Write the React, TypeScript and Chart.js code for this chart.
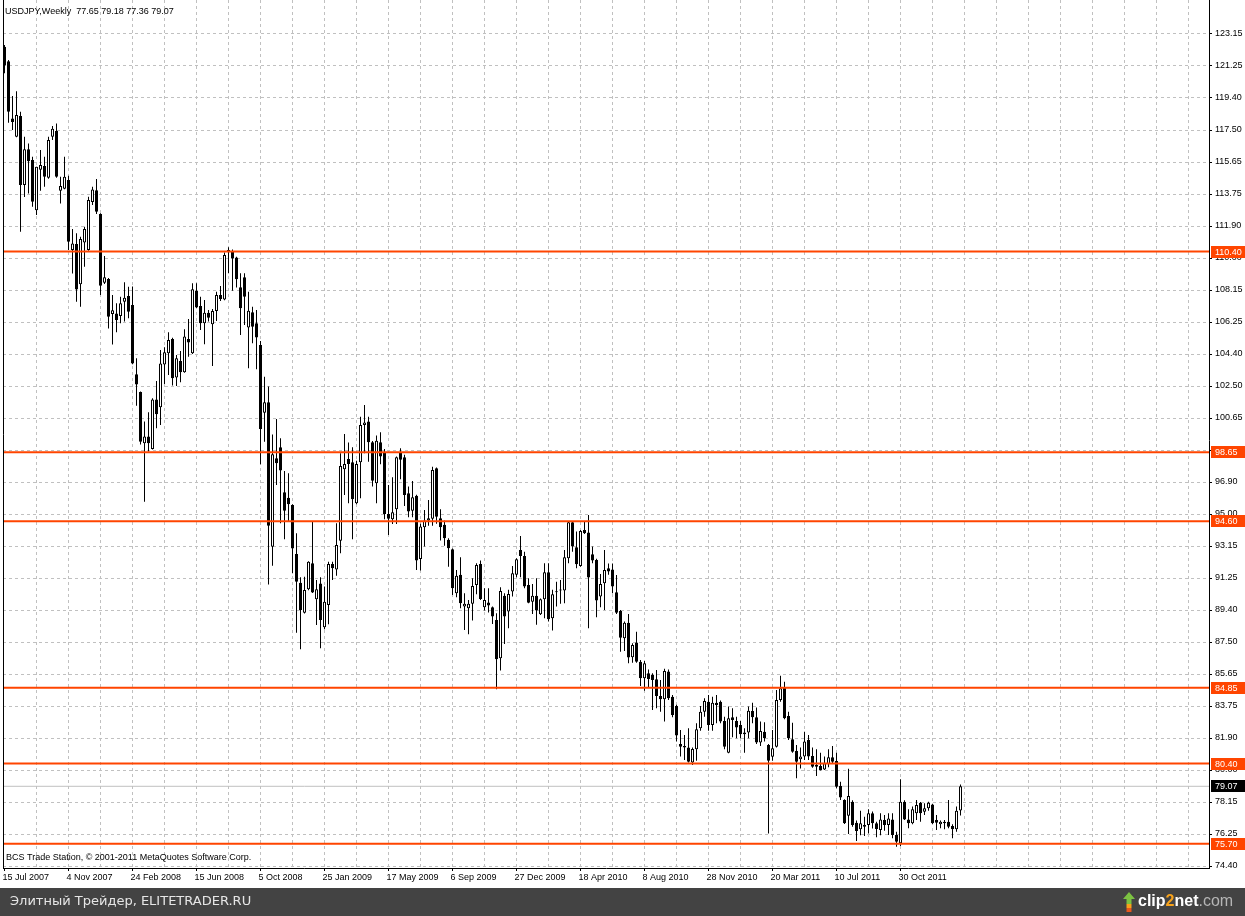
import React, { useEffect, useRef } from 'react';
import { Chart, registerables } from 'chart.js';

Chart.register(...registerables);

// ---------------- data ----------------
const symbolTitle = 'USDJPY,Weekly';

const opens = [
  122.40,121.56,118.20,117.13,118.34,114.30,116.40,115.76,112.83,115.20,
  115.41,114.73,117.13,117.46,113.97,114.08,114.59,110.49,110.84,108.48,
  110.94,110.49,113.30,114.00,112.60,108.58,108.79,106.74,106.78,106.62,
  107.46,107.80,107.27,103.21,102.17,99.17,99.56,98.84,101.74,101.28,
  103.79,104.44,105.28,103.03,103.99,103.33,105.28,104.44,108.11,107.21,
  106.20,106.82,106.14,106.92,107.86,107.60,110.36,110.44,110.05,108.31,
  108.89,105.96,106.84,106.20,104.93,100.96,101.57,93.11,98.29,98.93,
  96.30,95.98,95.55,92.68,91.00,89.24,90.61,92.14,90.03,90.96,
  88.39,89.69,92.10,91.78,93.46,97.64,98.25,98.05,95.65,98.05,
  100.24,100.44,99.23,96.83,99.23,98.65,95.03,94.72,95.30,98.65,
  98.35,96.24,95.21,96.09,92.39,94.25,94.64,94.74,97.71,94.78,
  94.39,93.51,92.96,90.38,91.46,89.60,89.50,89.76,90.87,92.10,
  89.56,89.84,89.56,88.82,86.57,90.23,89.31,90.48,91.46,92.92,
  92.57,90.87,89.89,90.23,89.15,90.03,91.61,88.92,90.48,90.58,
  90.54,92.43,94.54,93.08,91.98,94.09,93.94,92.67,92.33,90.19,
  90.97,91.85,91.78,90.44,89.34,87.74,88.66,86.63,87.50,86.37,
  85.40,85.69,85.59,85.34,84.36,84.17,85.79,84.32,83.78,81.55,
  81.43,81.35,80.46,81.24,82.47,83.44,84.03,82.66,83.97,84.03,
  82.90,81.04,83.11,82.90,82.66,82.22,82.22,83.48,83.11,81.63,
  82.27,81.49,80.80,81.39,84.13,84.85,83.19,81.82,81.14,80.65,
  80.81,81.78,80.85,80.32,80.26,80.06,80.38,80.77,80.55,79.09,
  78.27,77.35,78.17,76.94,76.55,76.80,76.80,77.49,76.90,76.51,
  77.10,76.80,77.13,76.21,75.73,78.17,77.13,76.90,77.49,78.11,
  77.58,77.78,78.01,77.10,76.84,76.90,77.00,76.74,76.55,77.65,
];

const highs = [
  122.50,121.62,119.51,119.80,118.60,117.13,116.74,115.96,115.37,116.35,
  115.96,117.13,117.76,117.91,114.79,115.96,114.85,111.72,111.47,111.27,
  111.86,113.61,114.20,114.65,112.65,110.14,108.85,107.85,107.37,107.76,
  108.60,108.34,108.35,104.15,102.20,100.44,100.98,101.80,102.82,104.63,
  104.79,105.67,105.35,104.34,104.58,105.85,106.45,108.54,108.54,107.76,
  107.56,106.98,107.04,108.05,108.38,110.34,110.65,110.53,110.10,109.13,
  109.13,108.05,107.17,106.98,105.16,103.07,102.49,99.69,100.59,99.46,
  97.55,97.41,95.60,93.89,91.32,91.35,92.25,94.58,91.16,91.32,
  90.77,92.23,92.23,94.48,98.58,99.71,99.21,98.93,98.15,100.73,
  101.41,100.73,99.30,99.62,99.82,98.84,96.73,97.18,98.40,98.88,
  98.49,96.63,96.96,96.15,94.45,95.26,95.85,97.80,97.75,95.30,
  94.64,93.60,93.00,91.75,92.49,90.38,89.99,91.26,92.14,92.30,
  90.67,90.67,89.60,89.21,90.73,90.38,90.58,91.98,92.43,93.74,
  92.82,91.26,90.93,91.26,90.08,92.14,92.14,90.58,91.06,91.16,
  92.92,94.58,94.60,94.00,94.09,94.58,94.97,93.12,92.40,91.51,
  92.92,92.13,92.13,91.45,89.40,88.72,89.17,87.45,88.13,86.47,
  86.41,85.92,85.69,85.89,85.30,85.96,85.92,84.42,83.85,82.37,
  82.08,82.47,81.34,82.76,83.78,84.23,84.42,84.32,84.42,84.10,
  83.15,83.74,83.64,83.15,82.90,82.47,83.74,83.97,83.68,82.86,
  82.82,81.55,82.37,84.71,85.55,85.20,83.44,82.80,81.49,81.35,
  82.27,82.08,81.35,81.24,81.04,80.81,81.24,81.43,81.04,79.34,
  78.31,80.10,78.25,77.06,77.64,77.29,77.72,77.59,77.00,77.49,
  77.39,77.49,77.49,76.41,79.48,78.25,77.72,77.88,78.27,78.15,
  78.07,78.17,78.05,77.39,77.06,77.10,78.27,76.84,77.88,79.18,
];

const lows = [
  120.85,117.95,117.52,117.10,111.57,113.60,113.80,113.03,112.54,113.97,
  114.20,114.67,116.94,114.73,113.22,114.05,110.49,109.12,107.46,107.17,
  109.51,110.45,113.13,112.60,107.85,108.50,105.90,104.96,105.67,106.20,
  106.30,106.49,103.80,101.37,99.10,95.75,98.68,98.80,100.05,100.24,
  102.64,103.17,102.55,102.53,102.74,103.30,104.24,104.40,107.10,105.81,
  104.97,106.30,103.70,106.33,107.51,107.55,109.13,108.11,108.30,105.51,
  106.10,103.56,105.03,103.50,97.94,99.26,90.90,92.00,96.73,94.48,
  93.54,94.58,91.55,88.07,87.10,89.20,90.55,90.40,88.52,87.16,
  88.27,88.56,91.16,91.41,92.72,96.14,95.65,93.54,95.60,95.95,
  98.58,98.09,96.63,95.66,97.94,94.72,93.80,94.44,94.44,97.06,
  95.50,94.84,94.84,91.75,91.71,93.12,94.33,94.33,94.45,93.47,
  93.16,91.94,90.28,90.15,89.50,88.23,87.98,88.78,90.32,89.99,
  89.37,89.25,88.58,84.76,85.85,87.41,88.33,90.19,91.32,91.32,
  90.67,89.80,89.17,88.53,89.10,88.92,88.72,88.20,89.60,89.76,
  89.80,92.14,92.82,91.85,91.94,93.86,88.33,92.14,88.98,89.56,
  89.40,91.46,90.38,89.17,86.96,87.00,86.28,86.31,86.31,84.95,
  84.67,84.87,83.54,83.64,83.44,82.86,84.13,83.11,81.69,80.81,
  80.61,80.46,80.32,80.57,82.33,83.15,82.33,82.33,82.76,82.76,
  81.24,81.00,81.94,81.88,81.88,81.04,81.88,82.76,81.55,81.43,
  81.69,76.31,80.57,81.35,84.03,83.00,81.78,81.04,79.54,80.12,
  80.61,80.61,80.16,79.67,79.99,80.03,80.18,80.42,78.95,78.27,
  76.86,76.27,76.70,75.86,76.20,76.16,76.31,76.60,76.08,76.20,
  76.47,76.21,76.02,75.53,75.57,77.10,76.61,76.84,77.10,77.00,
  77.39,77.64,76.86,76.51,76.61,76.55,76.61,76.02,76.41,77.36,
];

const closes = [
  121.30,118.60,118.00,118.40,114.30,116.40,115.70,113.32,115.37,115.47,
  114.79,116.94,117.60,114.79,114.24,114.79,110.98,110.88,108.18,111.14,
  111.72,113.42,114.04,112.74,108.40,108.89,106.58,106.97,106.39,107.37,
  107.70,106.88,103.85,102.62,99.26,99.56,99.17,101.74,100.87,103.85,
  104.50,105.22,102.98,104.15,103.33,105.42,105.08,108.19,107.13,106.20,
  106.82,106.53,106.92,107.86,107.62,110.20,110.50,110.00,108.78,107.08,
  107.76,106.94,106.00,105.36,100.01,101.57,94.34,98.52,98.00,97.57,
  95.22,95.60,93.01,91.06,89.40,90.57,92.23,90.42,90.61,88.82,
  89.89,92.10,91.84,93.21,97.84,97.96,97.96,95.89,97.96,100.24,
  100.38,99.23,96.98,99.31,98.39,95.03,94.74,95.13,98.35,98.20,
  96.14,95.17,96.01,92.30,94.29,94.64,94.78,97.61,94.87,94.25,
  93.60,93.02,90.67,91.40,89.80,89.76,89.76,90.81,92.04,90.05,
  89.99,89.66,89.02,86.52,90.52,89.02,90.34,91.55,92.37,92.57,
  90.77,89.83,90.24,89.37,90.03,91.61,88.86,90.32,90.44,90.54,
  92.49,94.54,93.12,92.08,94.03,93.90,91.30,92.30,89.95,90.93,
  91.75,91.65,90.77,89.24,87.78,88.66,86.61,87.35,86.37,85.40,
  86.28,85.36,85.30,84.36,84.17,85.83,84.23,83.25,82.04,81.39,
  81.34,80.51,81.26,82.41,83.44,84.07,82.66,83.97,83.83,82.86,
  81.39,83.05,82.95,82.51,82.12,82.12,83.50,83.11,81.63,82.31,
  81.88,80.57,81.30,84.13,84.81,83.05,81.88,81.10,80.51,80.81,
  81.69,80.81,80.22,80.22,80.03,80.42,80.77,80.51,79.05,78.42,
  76.90,78.50,76.80,76.45,76.90,76.70,77.49,76.90,76.57,77.13,
  76.80,77.19,76.21,75.82,78.17,77.13,76.90,77.72,77.97,77.49,
  77.78,78.11,76.90,76.94,77.00,77.00,76.70,76.55,77.64,79.07,
];

const dateLabels = [
  '15 Jul 2007', '4 Nov 2007', '24 Feb 2008', '15 Jun 2008', '5 Oct 2008',
  '25 Jan 2009', '17 May 2009', '6 Sep 2009', '27 Dec 2009', '18 Apr 2010',
  '8 Aug 2010', '28 Nov 2010', '20 Mar 2011', '10 Jul 2011', '30 Oct 2011',
];

const yTickValues = [
  74.4, 76.275, 78.15, 80.025, 81.9, 83.775, 85.65, 87.525, 89.4, 91.275,
  93.15, 95.025, 96.9, 98.775, 100.65, 102.525, 104.4, 106.275, 108.15,
  110.025, 111.9, 113.775, 115.65, 117.525, 119.4, 121.275, 123.15,
];
const yTickLabels = [
  '74.40', '76.25', '78.15', '80.00', '81.90', '83.75', '85.65', '87.50', '89.40', '91.25',
  '93.15', '95.00', '96.90', '98.75', '100.65', '102.50', '104.40', '106.25', '108.15',
  '110.00', '111.90', '113.75', '115.65', '117.50', '119.40', '121.25', '123.15',
];

const levelValues = [110.40, 98.65, 94.60, 84.85, 80.40, 75.70];
const levelLabels = ['110.40', '98.65', '94.60', '84.85', '80.40', '75.70'];
const lastPrice = 79.07;
const lastPriceLabel = '79.07';

const copyrightText = 'BCS Trade Station, \u00a9 2001-2011 MetaQuotes Software Corp.';
const footerText = '\u042d\u043b\u0438\u0442\u043d\u044b\u0439 \u0422\u0440\u0435\u0439\u0434\u0435\u0440, ELITETRADER.RU';

// ---------------- axis geometry ----------------
const X_MIN = -0.375;
const X_MAX = 301.125;
const Y_MIN = 74.2828125;
const Y_MAX = 124.4390625;
const GRID_EVERY = 8;
const LEVEL_COLOR = '#FF4500';
const GRID_COLOR = '#C0C0C0';

function pickFont() {
  const c = document.createElement('canvas').getContext('2d')!;
  const probe = '15 Jul 2007 123.15';
  c.font = '10px monospace';
  const a = c.measureText(probe).width;
  c.font = '10px "Liberation Sans Narrow", monospace';
  const b = c.measureText(probe).width;
  if (Math.abs(a - b) > 0.5) {
    return { family: '"Liberation Sans Narrow", "Liberation Sans", sans-serif', size: 10 };
  }
  return { family: '"Liberation Sans", Arial, sans-serif', size: 9 };
}

const fmt = (v: number) => v.toFixed(2);

function makeDeco(font: { family: string; size: number }) {
  const small = `${font.size}px ${font.family}`;
  return {
    id: 'mt4deco',
    beforeDraw(chart: any) {
      const ctx = chart.ctx;
      ctx.save();
      ctx.fillStyle = '#ffffff';
      ctx.fillRect(0, 0, chart.width, chart.height);
      ctx.restore();
    },
    afterDraw(chart: any) {
      const { ctx, chartArea, scales } = chart;
      const xs = scales.x;
      const ys = scales.y;
      ctx.save();
      // grid continuation above chart area
      ctx.lineWidth = 1;
      ctx.strokeStyle = GRID_COLOR;
      ctx.setLineDash([3, 3]);
      xs.ticks.forEach((t: any, k: number) => {
        if (k === 0) return;
        const px = Math.round(xs.getPixelForValue(t.value) - 0.5) + 0.5;
        ctx.beginPath();
        ctx.moveTo(px, 0);
        ctx.lineTo(px, chartArea.top);
        ctx.stroke();
      });
      ctx.setLineDash([]);
      // frame
      ctx.strokeStyle = '#000';
      ctx.beginPath();
      ctx.moveTo(3.5, 0);
      ctx.lineTo(3.5, chartArea.bottom + 0.5);
      ctx.stroke();
      ctx.beginPath();
      ctx.moveTo(chartArea.right + 0.5, 0);
      ctx.lineTo(chartArea.right + 0.5, chartArea.top + 1);
      ctx.stroke();

      // header
      const n = closes.length - 1;
      ctx.font = small;
      ctx.fillStyle = '#000';
      ctx.textBaseline = 'middle';
      ctx.textAlign = 'left';
      ctx.fillText(
        `${symbolTitle}  ${fmt(opens[n])} ${fmt(highs[n])} ${fmt(lows[n])} ${fmt(closes[n])}`,
        5, 12
      );
      // copyright
      ctx.fillText(copyrightText, 6, 858);

      // price boxes on the axis
      const box = (val: number, label: string, bg: string) => {
        const py = Math.round(ys.getPixelForValue(val));
        ctx.fillStyle = bg;
        ctx.fillRect(chartArea.right + 2, py - 6, 34, 12);
        ctx.fillStyle = '#fff';
        ctx.font = small;
        ctx.textBaseline = 'middle';
        ctx.fillText(label, chartArea.right + 6, py + 0.5);
      };
      levelValues.forEach((v, i) => box(v, levelLabels[i], LEVEL_COLOR));
      box(lastPrice, lastPriceLabel, '#000');

      // bottom bar
      const barTop = chartArea.bottom + 20;
      ctx.fillStyle = '#434343';
      ctx.fillRect(0, barTop, chart.width, chart.height - barTop);
      ctx.font = '13px "DejaVu Sans", sans-serif';
      ctx.fillStyle = '#e6e6e6';
      ctx.textBaseline = 'middle';
      ctx.fillText(footerText, 10, barTop + 14);

      // clip2net logo
      const lx = 1124;
      const ly = barTop + 14;
      ctx.fillStyle = '#7cc242';
      ctx.beginPath();
      ctx.moveTo(lx + 5, ly - 10);
      ctx.lineTo(lx + 11, ly - 3);
      ctx.lineTo(lx + 7.5, ly - 3);
      ctx.lineTo(lx + 7.5, ly + 2);
      ctx.lineTo(lx + 2.5, ly + 2);
      ctx.lineTo(lx + 2.5, ly - 3);
      ctx.lineTo(lx - 1, ly - 3);
      ctx.closePath();
      ctx.fill();
      ctx.fillStyle = '#f7a21b';
      ctx.fillRect(lx + 2.5, ly + 2, 5, 4);
      ctx.fillStyle = '#e8581c';
      ctx.fillRect(lx + 2.5, ly + 6, 5, 4);
      ctx.font = 'bold 16px "Liberation Sans", sans-serif';
      ctx.textBaseline = 'middle';
      let tx = lx + 14;
      ctx.fillStyle = '#ffffff';
      ctx.fillText('clip', tx, ly);
      tx += ctx.measureText('clip').width;
      ctx.fillStyle = '#f7a21b';
      ctx.fillText('2', tx, ly);
      tx += ctx.measureText('2').width;
      ctx.fillStyle = '#ffffff';
      ctx.fillText('net', tx, ly);
      tx += ctx.measureText('net').width;
      ctx.font = '16px "Liberation Sans", sans-serif';
      ctx.fillStyle = '#b5b5b5';
      ctx.fillText('.com', tx, ly);
      ctx.restore();
    },
  };
}

export default function App() {
  const ref = useRef<HTMLCanvasElement>(null);

  useEffect(() => {
    const canvas = ref.current;
    if (!canvas) return;
    const font = pickFont();
    const tickFont = { family: font.family, size: font.size, lineHeight: 1.2 };
    const idx = opens.map((_, i) => i);
    const xTickValues: number[] = [];
    for (let v = 0; v <= X_MAX; v += GRID_EVERY) xTickValues.push(v);

    const levelSets = levelValues.map((lv, k) => ({
      type: 'line' as const,
      label: `level ${levelLabels[k]}`,
      data: [{ x: X_MIN, y: lv }, { x: X_MAX, y: lv }],
      borderColor: LEVEL_COLOR,
      borderWidth: 2,
      pointRadius: 0,
      fill: false,
      tension: 0,
      order: -1,
    }));

    const chart = new Chart(canvas, {
      type: 'bar',
      data: {
        datasets: [
          {
            type: 'line' as const,
            label: 'last',
            data: [{ x: X_MIN, y: lastPrice }, { x: X_MAX, y: lastPrice }],
            borderColor: '#C0C0C0',
            borderWidth: 1,
            pointRadius: 0,
            fill: false,
            order: 5,
          },
          {
            type: 'bar' as const,
            label: 'wicks',
            data: idx.map((i) => ({ x: i, y: [lows[i], highs[i]] })) as any,
            backgroundColor: '#000',
            borderWidth: 0,
            barThickness: 1,
            grouped: false,
            inflateAmount: 0,
            order: 2,
          } as any,
          {
            type: 'bar' as const,
            label: 'bodies',
            data: idx.map((i) => ({ x: i, y: [opens[i], closes[i]] })) as any,
            backgroundColor: (c: any) =>
              closes[c.dataIndex] >= opens[c.dataIndex] ? '#ffffff' : '#000000',
            borderColor: '#000',
            borderWidth: 1,
            borderSkipped: false,
            minBarLength: 1,
            barThickness: 3,
            grouped: false,
            inflateAmount: 0,
            order: 1,
          } as any,
          ...levelSets,
        ],
      },
      options: {
        responsive: false,
        animation: false,
        devicePixelRatio: 1,
        events: [],
        layout: { padding: { left: 3, right: 0, top: 12, bottom: 28 } },
        plugins: { legend: { display: false }, tooltip: { enabled: false } },
        scales: {
          x: {
            type: 'linear',
            min: X_MIN,
            max: X_MAX,
            bounds: 'data',
            offset: false,
            afterBuildTicks: (s: any) => {
              s.ticks = xTickValues.map((v) => ({ value: v }));
            },
            afterFit: (s: any) => {
              s.height = 20;
            },
            ticks: {
              autoSkip: false,
              maxRotation: 0,
              minRotation: 0,
              align: 'start',
              padding: 1,
              labelOffset: -2,
              color: '#000',
              font: tickFont,
              callback: (_v: any, i: number) =>
                i % 2 === 0 && dateLabels[i / 2] !== undefined ? dateLabels[i / 2] : '',
            },
            grid: {
              offset: false,
              color: (c: any) => (c.index === 0 ? 'rgba(0,0,0,0)' : GRID_COLOR),
              lineWidth: 1,
              drawTicks: true,
              tickLength: 3,
              tickColor: (c: any) =>
                c.index % 2 === 0 && c.index / 2 < dateLabels.length ? '#000' : 'rgba(0,0,0,0)',
            },
            border: { display: true, color: '#000', width: 1, dash: [3, 3] },
          },
          y: {
            type: 'linear',
            position: 'right',
            min: Y_MIN,
            max: Y_MAX,
            bounds: 'data',
            beginAtZero: false,
            afterBuildTicks: (s: any) => {
              s.ticks = yTickValues.map((v) => ({ value: v }));
            },
            afterFit: (s: any) => {
              s.width = 36;
            },
            ticks: {
              autoSkip: false,
              padding: 3,
              color: '#000',
              font: tickFont,
              callback: (_v: any, i: number) => yTickLabels[i],
            },
            grid: {
              color: GRID_COLOR,
              lineWidth: 1,
              drawTicks: true,
              tickLength: 3,
              tickColor: '#000',
            },
            border: { display: true, color: '#000', width: 1, dash: [3, 3] },
          },
        },
      } as any,
      plugins: [makeDeco(font)],
    });
    return () => chart.destroy();
  }, []);

  return (
    <div style={{ position: 'fixed', left: 0, top: 0, width: 1245, height: 916, background: '#fff' }}>
      <canvas ref={ref} width={1245} height={916} style={{ display: 'block', width: 1245, height: 916 }} />
    </div>
  );
}
